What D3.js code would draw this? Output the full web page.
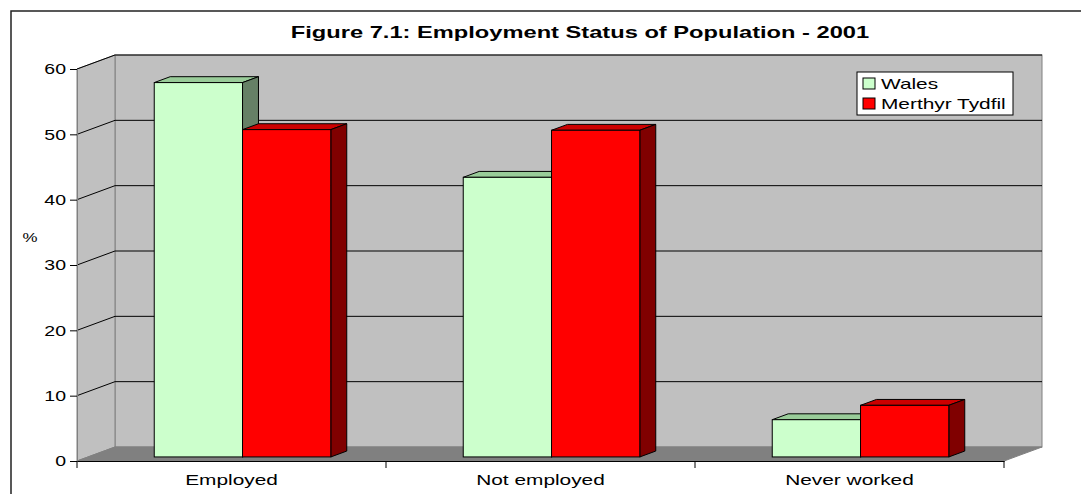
<!DOCTYPE html>
<html lang="en">
<head>
<meta charset="UTF-8">
<title>Figure 7.1: Employment Status of Population - 2001</title>
<script src="https://d3js.org/d3.v7.min.js"></script>
<style>
  body { margin: 0; background: #fff; }
  svg text { font-family: Arial, "Liberation Sans", sans-serif; fill: #000; }
</style>
</head>
<body onload="draw()">
<svg id="chart" width="1081" height="494"></svg>
<script>
    // data
    var categories = ["Employed", "Not employed", "Never worked"];
    var seriesNames = ["Wales", "Merthyr Tydfil"];
    var wales = [57.3, 42.8, 5.7];
    var merthyr = [50.1, 50.0, 7.9];
    var yTicks = [0, 10, 20, 30, 40, 50, 60];
    var title = "Figure 7.1: Employment Status of Population - 2001";

    function draw() {
        var svg = d3.select("#chart");
        var sx = 1.39; // the original text is stretched sideways

        // plot box (front face of the 3d box) and depth offset
        var pLeft = 77, pRight = 1004, pTop = 69, pBottom = 461;
        var depthX = 38, depthY = -14;
        var barFront = 0.29, barBack = 0.71;

        var y = d3.scaleLinear().domain([0, 60]).range([pBottom, pTop]);
        var x = d3.scaleBand().domain(categories).range([pLeft, pRight])
            .paddingInner(0.4286).paddingOuter(0.2143);
        var xs = d3.scaleBand().domain(seriesNames).range([0, x.bandwidth()]);

        var colors = {
            "Wales": {front: "#CCFFCC", top: "#99CC99", side: "#668066"},
            "Merthyr Tydfil": {front: "#FF0000", top: "#CC0000", side: "#800000"}
        };

        // outer frame
        svg.append("rect")
            .attr("x", 11).attr("y", 11).attr("width", 1100).attr("height", 500)
            .attr("fill", "none").attr("stroke", "#222").attr("stroke-width", 1.5);

        // walls
        var walls = svg.append("g");
        walls.append("rect")
            .attr("x", pLeft + depthX).attr("y", y(60) + depthY)
            .attr("width", pRight - pLeft).attr("height", y(0) - y(60))
            .attr("fill", "#C0C0C0").attr("stroke", "#808080");
        walls.append("polygon")
            .attr("points", [[pLeft, y(60)], [pLeft + depthX, y(60) + depthY],
                [pLeft + depthX, y(0) + depthY], [pLeft, y(0)]].join(" "))
            .attr("fill", "#C0C0C0").attr("stroke", "#808080");
        walls.append("polygon")
            .attr("points", [[pLeft, y(0)], [pRight, y(0)], [pRight + depthX, y(0) + depthY],
                [pLeft + depthX, y(0) + depthY]].join(" "))
            .attr("fill", "#808080").attr("stroke", "#808080");

        // gridlines
        var grid = walls.selectAll(".grid").data(yTicks.slice(1)).enter().append("g");
        grid.append("line")
            .attr("x1", pLeft).attr("y1", d => y(d))
            .attr("x2", pLeft + depthX).attr("y2", d => y(d) + depthY)
            .attr("stroke", "#000");
        grid.append("line")
            .attr("x1", pLeft + depthX).attr("y1", d => y(d) + depthY)
            .attr("x2", pRight + depthX).attr("y2", d => y(d) + depthY)
            .attr("stroke", "#000");

        // bars
        var bars = [];
        categories.forEach(function(c, i) {
            bars.push({cat: c, name: "Wales", value: wales[i]});
            bars.push({cat: c, name: "Merthyr Tydfil", value: merthyr[i]});
        });
        var fx = barFront * depthX, fy = barFront * depthY;
        var bx = barBack * depthX, by = barBack * depthY;
        var w = xs.bandwidth();

        var barG = svg.append("g").selectAll("g").data(bars).enter().append("g");
        barG.append("polygon")
            .attr("points", function(d) {
                var x0 = x(d.cat) + xs(d.name), yv = y(d.value);
                return [[x0 + fx, yv + fy], [x0 + bx, yv + by], [x0 + bx + w, yv + by], [x0 + fx + w, yv + fy]].join(" ");
            })
            .attr("fill", d => colors[d.name].top).attr("stroke", "#000").attr("stroke-linejoin", "round");
        barG.append("polygon")
            .attr("points", function(d) {
                var x0 = x(d.cat) + xs(d.name) + w, yv = y(d.value), y0 = y(0);
                return [[x0 + fx, yv + fy], [x0 + bx, yv + by], [x0 + bx, y0 + by], [x0 + fx, y0 + fy]].join(" ");
            })
            .attr("fill", d => colors[d.name].side).attr("stroke", "#000").attr("stroke-linejoin", "round");
        barG.append("rect")
            .attr("x", d => x(d.cat) + xs(d.name) + fx)
            .attr("y", d => y(d.value) + fy)
            .attr("width", w)
            .attr("height", d => y(0) - y(d.value))
            .attr("fill", d => colors[d.name].front).attr("stroke", "#000");

        // y axis
        var yAxis = svg.append("g").attr("transform", "translate(" + pLeft + ",0)")
            .call(d3.axisLeft(y).tickValues(yTicks).tickSize(7).tickPadding(4));
        yAxis.select(".domain").attr("stroke", "#808080");
        yAxis.selectAll(".tick line").attr("stroke", "#000");
        yAxis.selectAll(".tick text")
            .attr("font-size", 15).attr("fill", "#000")
            .attr("transform", "translate(-11,0) scale(1.3,1) translate(11,0)");

        // x axis
        var xAxis = svg.append("g").attr("transform", "translate(0," + pBottom + ")")
            .call(d3.axisBottom(x).tickSize(0).tickPadding(13));
        xAxis.select(".domain").attr("stroke", "#000");
        xAxis.selectAll(".tick text")
            .attr("font-size", 15).attr("fill", "#000")
            .attr("transform", "scale(" + sx + ",1)");
        xAxis.selectAll(".cattick").data(d3.range(categories.length + 1)).enter().append("line")
            .attr("x1", i => pLeft + i * x.step()).attr("x2", i => pLeft + i * x.step())
            .attr("y1", 0).attr("y2", 7).attr("stroke", "#000");

        svg.append("text")
            .attr("transform", "translate(30,242) scale(1.3,1)")
            .attr("font-size", 13).attr("text-anchor", "middle").text("%");

        // title
        svg.append("text")
            .attr("transform", "translate(580,38) scale(1.48,1)")
            .attr("text-anchor", "middle").attr("font-size", 16).attr("font-weight", "bold")
            .text(title);

        // legend
        var lg = svg.append("g").attr("transform", "translate(857,72)");
        lg.append("rect").attr("width", 156).attr("height", 43)
            .attr("fill", "#fff").attr("stroke", "#000");
        var item = lg.selectAll(".item").data(seriesNames).enter().append("g")
            .attr("transform", (d, i) => "translate(6," + (6 + i * 20) + ")");
        item.append("rect").attr("width", 12).attr("height", 11)
            .attr("fill", d => colors[d].front).attr("stroke", "#000");
        item.append("text")
            .attr("transform", "translate(18,11) scale(" + sx + ",1)")
            .attr("font-size", 15).text(d => d);
    }
</script>
</body>
</html>
